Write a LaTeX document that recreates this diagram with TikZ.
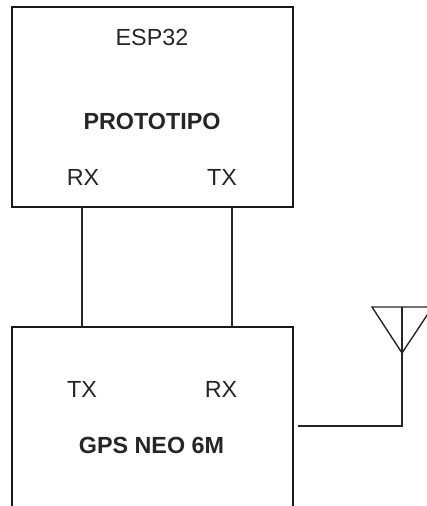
\documentclass[tikz,border=0pt]{standalone}
\usepackage{fontspec}
\setmainfont{Liberation Sans}
\tikzset{box/.style={draw=black!90,line width=1.1pt},
lbl/.style={font=\fontsize{17.5}{20}\selectfont,text=black!85,inner sep=0pt},
blbl/.style={lbl,font=\fontsize{17.5}{20}\selectfont\bfseries,text=black!85},
wire/.style={draw=black!85,line width=1.05pt}}
\begin{document}
\begin{tikzpicture}[x=0.75pt,y=-0.75pt]
\useasboundingbox (0,0) rectangle (426,506);
\path[box] (12,7) rectangle (293,207);
\path[box] (12,327) rectangle (293,506.7);
\node[lbl] (esp) at (152,37) {ESP32};
\node[blbl] (proto) at (152,121) {PROTOTIPO};
\node[lbl] (rxa) at (83,177) {RX};
\node[lbl] (txa) at (222,177) {TX};
\node[lbl] (txb) at (82,389) {TX};
\node[lbl] (rxb) at (221,389) {RX};
\node[blbl] (gps) at (151.5,445) {GPS NEO 6M};
\coordinate (a1) at (82,207);
\coordinate (b1) at (82,327);
\coordinate (a2) at (232,207);
\coordinate (b2) at (232,327);
\coordinate (g) at (298,426);
\coordinate (c) at (402,426);
\coordinate (t) at (402,307);
\coordinate (tl) at (372,307);
\coordinate (tr) at (432.5,307);
\coordinate (m) at (402,353);
\draw[wire] (a1) -- (b1);
\draw[wire] (a2) -- (b2);
\draw[wire] (g) -- (c) -- (t);
\draw[wire] (tl) -- (tr) -- (m) -- cycle;
\end{tikzpicture}
\end{document}
